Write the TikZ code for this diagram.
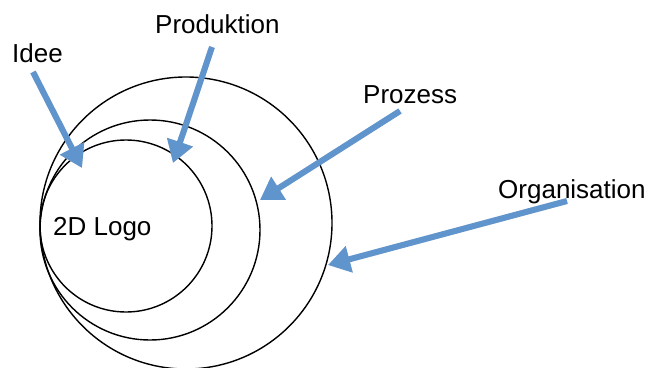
\documentclass[tikz,border=0pt]{standalone}
\usepackage{fontspec}
\setmainfont{Liberation Sans}
\usetikzlibrary{arrows.meta}
\definecolor{arrowblue}{RGB}{96,148,204}
\tikzset{
  ring/.style={draw=black, line width=1.4pt},
  lbl/.style={inner sep=0pt, anchor=base west, font=\fontsize{26pt}{30pt}\selectfont},
  pointer/.style={draw=arrowblue, line width=6pt, -{Triangle[width=26pt,length=22pt]}},
  pshadow/.style={draw=black!25, line width=6pt, opacity=0.5, -{Triangle[width=26pt,length=22pt]}}
}
\begin{document}
\begin{tikzpicture}[x=1pt,y=-1pt]
\useasboundingbox (0,0) rectangle (650,367);
% circles
\draw[ring] (186,223) circle[radius=146];
\draw[ring] (150,230) circle[radius=110];
\draw[ring] (126,226) circle[radius=86];
% labels
\node[lbl] (idee) at (12,62) {Idee};
\node[lbl] (prod) at (155,33) {Produktion};
\node[lbl] (proz) at (363,103) {Prozess};
\node[lbl] (org) at (498,198) {Organisation};
\node[lbl] (logo) at (53,235) {2D Logo};
% arrow ends
\coordinate (ideeS) at (33,72);
\coordinate (ideeT) at (82,168);
\coordinate (prodS) at (212,47);
\coordinate (prodT) at (173,163);
\coordinate (prozS) at (400,111);
\coordinate (prozT) at (260,200);
\coordinate (orgS) at (567,201);
\coordinate (orgT) at (328,265);
% shadows
\begin{scope}[shift={(1.5,1.5)}]
\draw[pshadow] (ideeS) -- (ideeT);
\draw[pshadow] (prodS) -- (prodT);
\draw[pshadow] (prozS) -- (prozT);
\draw[pshadow] (orgS) -- (orgT);
\end{scope}
% arrows
\draw[pointer] (ideeS) -- (ideeT);
\draw[pointer] (prodS) -- (prodT);
\draw[pointer] (prozS) -- (prozT);
\draw[pointer] (orgS) -- (orgT);
\end{tikzpicture}
\end{document}
